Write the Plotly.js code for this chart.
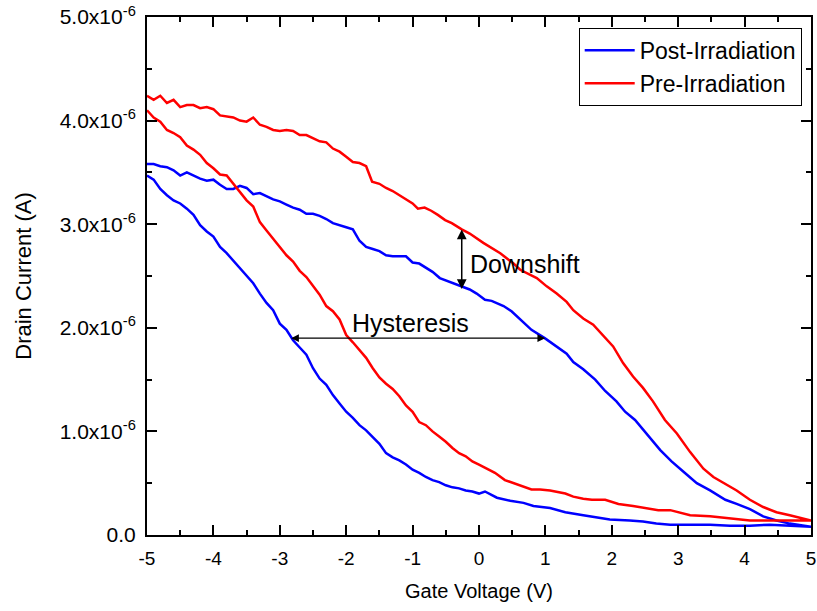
<!DOCTYPE html>
<html>
<head>
<meta charset="utf-8">
<script src="https://cdn.plot.ly/plotly-3.0.1.min.js"></script>
<style>
  html, body { margin: 0; padding: 0; background: #ffffff; }
  #chart { width: 817px; height: 611px; }
</style>
</head>
<body>
<div id="chart"></div>
<script>
// Gate voltage (V) and drain current (microamps).
// Pre-Irradiation: forward sweep (lower branch) -5 -> 5
var preFwdV = [-5,-4.9,-4.8,-4.7,-4.6,-4.5,-4.4,-4.3,-4.2,-4.1,-4.0,-3.9,-3.8,-3.7,-3.6,-3.5,-3.4,-3.3,-3.2,-3.1,-3.0,-2.9,-2.8,-2.7,-2.6,-2.5,-2.4,-2.3,-2.2,-2.1,-2.0,-1.9,-1.8,-1.7,-1.6,-1.5,-1.4,-1.3,-1.2,-1.1,-1.0,-0.9,-0.8,-0.7,-0.6,-0.5,-0.4,-0.3,-0.2,-0.1,0.0,0.12,0.24,0.39,0.62,0.79,0.92,1.07,1.3,1.42,1.57,1.7,1.9,2.1,2.32,2.5,2.7,2.88,3.18,3.48,3.78,4.08,4.38,4.68,5.0];
var preFwdI = [4.10,4.03,3.99,3.91,3.88,3.84,3.76,3.72,3.67,3.59,3.54,3.48,3.47,3.39,3.30,3.23,3.17,3.02,2.94,2.86,2.79,2.70,2.64,2.55,2.49,2.41,2.32,2.21,2.16,2.08,1.93,1.86,1.79,1.71,1.61,1.52,1.46,1.41,1.34,1.25,1.19,1.09,1.06,1.00,0.95,0.90,0.84,0.79,0.76,0.71,0.68,0.64,0.60,0.53,0.48,0.44,0.44,0.43,0.40,0.37,0.35,0.34,0.34,0.30,0.28,0.26,0.24,0.24,0.19,0.18,0.16,0.14,0.14,0.14,0.14];
// Pre-Irradiation: reverse sweep (upper branch) 5 -> -5
var preRevV = [5.0,4.68,4.48,4.28,4.08,3.88,3.68,3.53,3.38,3.18,2.98,2.80,2.62,2.47,2.32,2.17,2.02,1.87,1.72,1.57,1.42,1.32,1.17,1.02,0.87,0.62,0.52,0.32,0.065,-0.14,-0.26,-0.41,-0.51,-0.62,-0.72,-0.82,-0.92,-1.0,-1.1,-1.2,-1.3,-1.4,-1.5,-1.61,-1.7,-1.8,-1.9,-2.0,-2.1,-2.2,-2.3,-2.4,-2.5,-2.6,-2.7,-2.8,-2.9,-3.0,-3.1,-3.2,-3.3,-3.4,-3.5,-3.6,-3.7,-3.8,-3.9,-4.0,-4.1,-4.2,-4.3,-4.4,-4.5,-4.6,-4.7,-4.8,-4.9,-5.0];
var preRevI = [0.14,0.19,0.22,0.27,0.34,0.43,0.50,0.56,0.64,0.80,0.98,1.11,1.29,1.42,1.53,1.66,1.82,1.93,2.03,2.09,2.17,2.25,2.33,2.40,2.48,2.56,2.62,2.72,2.82,2.91,2.95,3.01,3.04,3.09,3.13,3.16,3.15,3.20,3.24,3.28,3.32,3.35,3.39,3.41,3.56,3.59,3.60,3.65,3.70,3.73,3.79,3.80,3.83,3.86,3.86,3.90,3.91,3.90,3.91,3.94,3.96,4.03,3.99,4.00,4.03,4.04,4.05,4.11,4.13,4.12,4.15,4.15,4.13,4.20,4.17,4.24,4.20,4.24];
// Post-Irradiation: forward sweep (lower branch) -5 -> 5
var postFwdV = [-5,-4.9,-4.8,-4.7,-4.6,-4.5,-4.4,-4.3,-4.2,-4.1,-4.0,-3.9,-3.8,-3.7,-3.6,-3.5,-3.4,-3.3,-3.2,-3.1,-3.0,-2.9,-2.8,-2.7,-2.6,-2.5,-2.4,-2.3,-2.2,-2.1,-2.0,-1.9,-1.8,-1.7,-1.6,-1.5,-1.4,-1.3,-1.2,-1.1,-1.0,-0.9,-0.8,-0.7,-0.6,-0.5,-0.4,-0.3,-0.2,-0.1,0.0,0.09,0.27,0.47,0.67,0.82,1.07,1.3,1.57,1.77,1.97,2.27,2.47,2.67,2.88,3.18,3.48,3.78,4.08,4.38,4.68,5.0];
var postFwdI = [3.47,3.43,3.34,3.28,3.23,3.20,3.15,3.09,2.99,2.93,2.88,2.78,2.72,2.65,2.58,2.50,2.43,2.33,2.24,2.17,2.04,1.98,1.88,1.81,1.74,1.61,1.51,1.45,1.35,1.27,1.19,1.13,1.06,1.01,0.94,0.88,0.79,0.75,0.72,0.68,0.63,0.60,0.56,0.53,0.51,0.48,0.46,0.45,0.43,0.42,0.40,0.42,0.36,0.33,0.31,0.28,0.26,0.22,0.19,0.17,0.15,0.14,0.13,0.11,0.10,0.10,0.10,0.09,0.09,0.10,0.09,0.08];
// Post-Irradiation: reverse sweep (upper branch) 5 -> -5
var postRevV = [5.0,4.68,4.48,4.28,4.08,3.88,3.71,3.48,3.28,3.08,2.90,2.73,2.60,2.47,2.35,2.20,2.07,1.90,1.75,1.57,1.42,1.32,1.17,0.99,0.79,0.62,0.49,0.37,0.19,0.09,-0.035,-0.14,-0.26,-0.44,-0.59,-0.7,-0.8,-0.9,-1.0,-1.1,-1.2,-1.3,-1.4,-1.5,-1.6,-1.7,-1.8,-1.9,-2.0,-2.1,-2.2,-2.3,-2.4,-2.5,-2.6,-2.7,-2.8,-2.9,-3.0,-3.1,-3.2,-3.3,-3.4,-3.5,-3.6,-3.7,-3.8,-3.9,-4.0,-4.1,-4.2,-4.3,-4.4,-4.5,-4.6,-4.7,-4.8,-4.9,-5.0];
var postRevI = [0.08,0.11,0.14,0.18,0.25,0.30,0.34,0.43,0.50,0.61,0.71,0.82,0.92,1.01,1.11,1.19,1.29,1.39,1.50,1.60,1.67,1.75,1.82,1.90,1.98,2.08,2.16,2.21,2.26,2.27,2.33,2.37,2.40,2.44,2.48,2.54,2.58,2.62,2.63,2.69,2.69,2.69,2.70,2.74,2.76,2.78,2.84,2.95,2.97,2.99,3.01,3.05,3.08,3.10,3.10,3.14,3.16,3.19,3.22,3.24,3.27,3.30,3.29,3.35,3.37,3.34,3.34,3.38,3.43,3.42,3.44,3.47,3.50,3.47,3.52,3.55,3.56,3.58,3.58];

var seriesNames = ["Post-Irradiation", "Pre-Irradiation"];
var xTickVals = [-5,-4,-3,-2,-1,0,1,2,3,4,5];
var xTickText = ["-5","-4","-3","-2","-1","0","1","2","3","4","5"];
var yTickVals = [0, 1e-6, 2e-6, 3e-6, 4e-6, 5e-6];
var yTickText = ["0.0", "1.0x10<sup>-6</sup>", "2.0x10<sup>-6</sup>", "3.0x10<sup>-6</sup>", "4.0x10<sup>-6</sup>", "5.0x10<sup>-6</sup>"];

// Annotation anchors (data units)
var downshiftV = -0.26, downshiftTop = 2.95, downshiftBottom = 2.36;
var hystI = 1.90, hystLeftV = -2.83, hystRightV = 1.02;

var MICRO = 1e-6;
function toA(arr) { return arr.map(function (v) { return v * MICRO; }); }

var postTrace = {
  x: postFwdV.concat(postRevV),
  y: toA(postFwdI.concat(postRevI)),
  type: "scatter", mode: "lines", name: seriesNames[0],
  line: { color: "#0000ff", width: 2.5 }
};
var preTrace = {
  x: preFwdV.concat(preRevV),
  y: toA(preFwdI.concat(preRevI)),
  type: "scatter", mode: "lines", name: seriesNames[1],
  line: { color: "#ff0000", width: 2.5 }
};

var FONT = "Liberation Sans, Arial, sans-serif";

var layout = {
  width: 817, height: 611,
  margin: { l: 147, r: 6, t: 17, b: 76, pad: 0 },
  paper_bgcolor: "#ffffff", plot_bgcolor: "#ffffff",
  font: { family: FONT, color: "#000000" },
  showlegend: true,
  legend: {
    x: 0.986, xanchor: "right", y: 0.979, yanchor: "top",
    bgcolor: "#ffffff", bordercolor: "#000000", borderwidth: 1,
    font: { family: FONT, size: 23, color: "#000000" },
    tracegroupgap: 0, itemwidth: 50
  },
  xaxis: {
    range: [-5, 5], autorange: false,
    tickmode: "array", tickvals: xTickVals, ticktext: xTickText,
    ticks: "inside", ticklen: 10, tickwidth: 2, tickcolor: "#000",
    showline: true, linewidth: 2, linecolor: "#000", mirror: "allticks",
    showgrid: false, zeroline: false,
    tickfont: { family: FONT, size: 19, color: "#000" },
    ticklabelstandoff: 5,
    minor: { tickmode: "linear", tick0: -5, dtick: 0.5, ticks: "inside", ticklen: 5, tickwidth: 2, tickcolor: "#000", showgrid: false },
    title: { text: "Gate Voltage (V)", font: { family: FONT, size: 20, color: "#000" }, standoff: 16 }
  },
  yaxis: {
    range: [0, 5e-6], autorange: false,
    tickmode: "array", tickvals: yTickVals, ticktext: yTickText,
    ticks: "inside", ticklen: 10, tickwidth: 2, tickcolor: "#000",
    showline: true, linewidth: 2, linecolor: "#000", mirror: "allticks",
    showgrid: false, zeroline: false,
    tickfont: { family: FONT, size: 21, color: "#000" },
    ticklabelstandoff: 5,
    minor: { tickmode: "linear", tick0: 0, dtick: 0.5e-6, ticks: "inside", ticklen: 5, tickwidth: 2, tickcolor: "#000", showgrid: false },
    title: { text: "Drain Current (A)", font: { family: FONT, size: 22, color: "#000" }, standoff: 22 }
  },
  annotations: [
    {
      x: downshiftV, y: downshiftTop * MICRO, ax: downshiftV, ay: downshiftBottom * MICRO,
      xref: "x", yref: "y", axref: "x", ayref: "y",
      text: "", showarrow: true, arrowside: "end+start",
      arrowhead: 2, startarrowhead: 2, arrowsize: 1.3, startarrowsize: 1.3, arrowwidth: 1.5, arrowcolor: "#000",
      standoff: 0, startstandoff: 0
    },
    {
      x: hystLeftV, y: hystI * MICRO, ax: hystRightV, ay: hystI * MICRO,
      xref: "x", yref: "y", axref: "x", ayref: "y",
      text: "", showarrow: true, arrowside: "end+start",
      arrowhead: 2, startarrowhead: 2, arrowsize: 1.3, startarrowsize: 1.3, arrowwidth: 1.2, arrowcolor: "#000",
      standoff: 0, startstandoff: 0
    },
    {
      x: -0.161, y: 2.62 * MICRO, xref: "x", yref: "y",
      xanchor: "left", yanchor: "middle", showarrow: false,
      text: "Downshift", font: { family: FONT, size: 25, color: "#000" }
    },
    {
      x: -1.943, y: 2.05 * MICRO, xref: "x", yref: "y",
      xanchor: "left", yanchor: "middle", showarrow: false,
      text: "Hysteresis", font: { family: FONT, size: 25, color: "#000" }
    }
  ]
};

Plotly.newPlot("chart", [postTrace, preTrace], layout, { displayModeBar: false, staticPlot: true });
</script>
</body>
</html>
